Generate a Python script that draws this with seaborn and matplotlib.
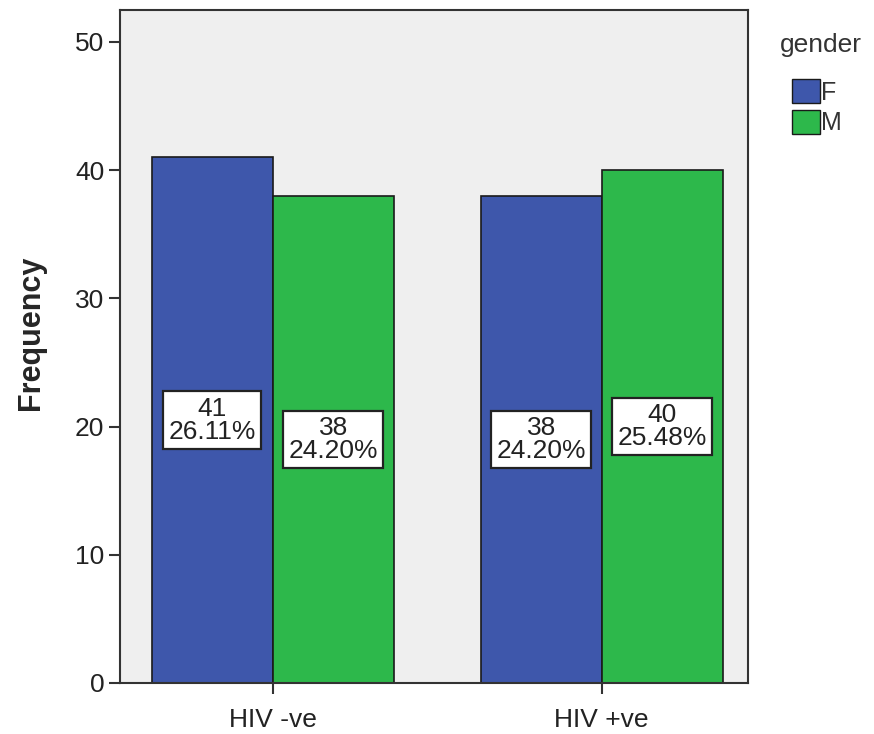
import matplotlib
matplotlib.use("Agg")
import matplotlib.pyplot as plt
import seaborn as sns
import pandas as pd
from matplotlib.patches import Patch

status = ["HIV -ve", "HIV -ve", "HIV +ve", "HIV +ve"]
gender = ["F", "M", "F", "M"]
counts = [41, 38, 38, 40]
percents = ["26.11%", "24.20%", "24.20%", "25.48%"]
y_ticks = [0, 10, 20, 30, 40, 50]

df = pd.DataFrame({"status": status, "gender": gender, "count": counts})

sns.set_style("white")
plt.rcParams['font.family'] = ['Liberation Sans', 'DejaVu Sans']

W, H = 874, 734
fig = plt.figure(figsize=(8.74, 7.34), dpi=100)
ax = fig.add_axes([0.137, 0.0695, 0.719, 0.917])
ax.set_facecolor("#EFEFEF")
palette = {"F": "#3E57AB", "M": "#2DB84B"}
sns.barplot(data=df, x="status", y="count", hue="gender", palette=palette,
            width=0.735, edgecolor="#1a1a1a", linewidth=1.2, saturation=1,
            ax=ax, legend=False)

ax.set_xlim(-0.465, 1.445)
ax.set_ylim(0, 52.5)
ax.set_yticks(y_ticks)
ax.set_xlabel("")
ax.set_ylabel("Frequency", fontsize=22, fontweight="bold")
ax.yaxis.set_label_coords(-0.117, 0.52)
ax.tick_params(axis="both", direction="out", length=8, width=1.5, color="#333333",
               labelsize=19, labelcolor="#222222", left=True, bottom=True, pad=3)
ax.tick_params(axis="x", pad=10)
for s in ax.spines.values():
    s.set_color("#333333")
    s.set_linewidth(1.5)

# labels
bars = [p for p in ax.patches if p.get_height() > 0]
bars = sorted(bars, key=lambda p: p.get_x())
for p, c, pc in zip(bars, counts, percents):
    cx = p.get_x() + p.get_width() / 2
    ax.text(cx, c / 2, f"{c}\n{pc}", ha="center", va="center", fontsize=19,
            color="#222222", linespacing=0.95,
            bbox=dict(boxstyle="square,pad=0.2", fc="white", ec="#222222", lw=1.6))

fig.text(780 / W, 1 - 45 / H, "gender", fontsize=19, color="#333333",
         ha="left", va="center")
handles = [Patch(facecolor=palette["F"], edgecolor="#1a1a1a", label="F"),
           Patch(facecolor=palette["M"], edgecolor="#1a1a1a", label="M")]
leg = fig.legend(handles=handles, loc="upper left",
                 bbox_to_anchor=(792 / W, 1 - 79 / H), frameon=False, fontsize=18,
                 handlelength=1.1, handleheight=1.1,
                 handletextpad=0.05, labelspacing=0.2, borderpad=0,
                 borderaxespad=0)
for t in leg.get_texts():
    t.set_color("#333333")

fig.savefig("out.png", dpi=100)
